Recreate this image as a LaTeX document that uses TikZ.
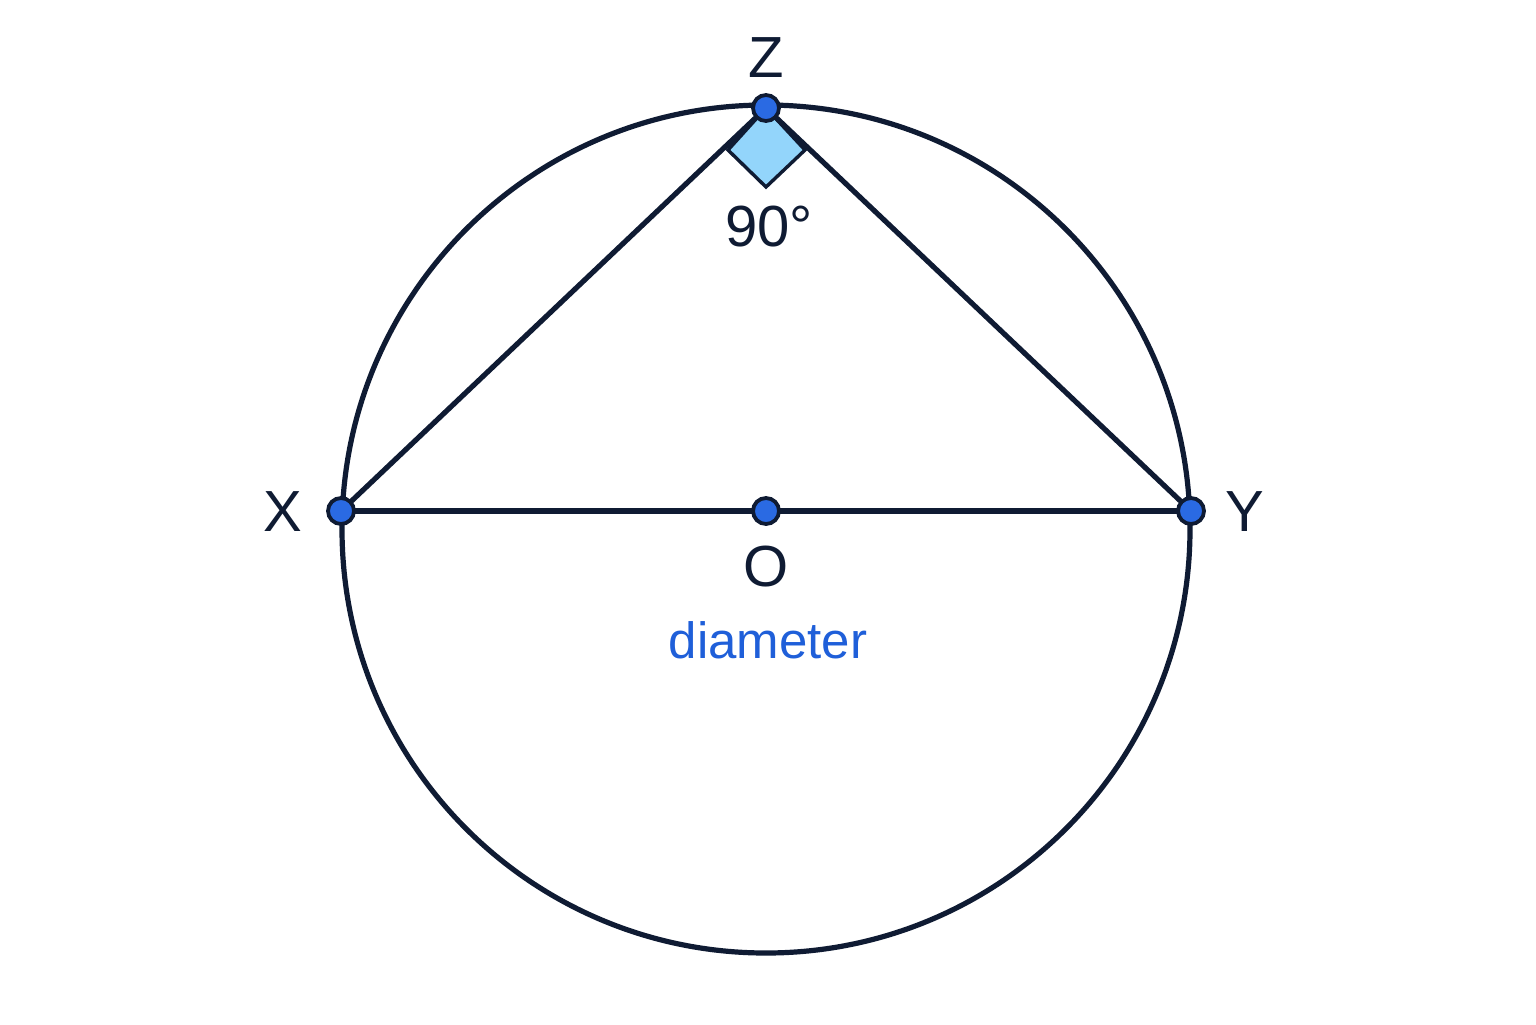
\documentclass[tikz,border=0pt]{standalone}
\usepackage{fontspec}
\setmainfont{Liberation Sans}
\definecolor{navy}{HTML}{0F1B33}
\definecolor{ptblue}{HTML}{2A6AE3}
\definecolor{sqblue}{HTML}{93D5FB}
\definecolor{txtblue}{HTML}{1F5FD9}
\begin{document}
\begin{tikzpicture}[x=0.5pt,y=-0.5pt,
  dot/.style={circle,draw=navy,fill=ptblue,line width=1.9pt,minimum size=13pt,inner sep=0pt},
  edge/.style={draw=navy,line width=2.6pt},
  lbl/.style={text=navy,font=\fontsize{29}{31}\selectfont},
]
\fill[white] (0,0) rectangle (1536,1024);
\path[use as bounding box] (0,0) rectangle (1536,1024);
% circle
\coordinate (c) at (766,529);
\draw[edge] (c) circle [radius=212pt];
% points
\coordinate (x) at (341,511);
\coordinate (y) at (1191,511);
\coordinate (z) at (766,108);
\coordinate (o) at (766,511);
% right-angle marker
\coordinate (sl) at (728,150);
\coordinate (sb) at (766,187);
\coordinate (sr) at (805,150);
\filldraw[fill=sqblue,draw=navy,line width=1.7pt,line join=miter] (z) -- (sl) -- (sb) -- (sr) -- cycle;
% triangle and diameter
\draw[edge] (x) -- (z) -- (y);
\draw[edge] (x) -- (y);
% dots
\node[dot] (X) at (x) {};
\node[dot] (Y) at (y) {};
\node[dot] (Z) at (z) {};
\node[dot] (O) at (o) {};
% labels
\node[lbl] (lZ) at (766,58) {Z};
\node[lbl] (lX) at (283,512) {X};
\node[lbl] (lY) at (1245,512) {Y};
\node[lbl] (lO) at (766,567) {O};
\node[lbl] (l90) at (769,227) {90°};
\node[text=txtblue,font=\fontsize{25.5}{27}\selectfont] (ld) at (768,640) {diameter};
\end{tikzpicture}
\end{document}
